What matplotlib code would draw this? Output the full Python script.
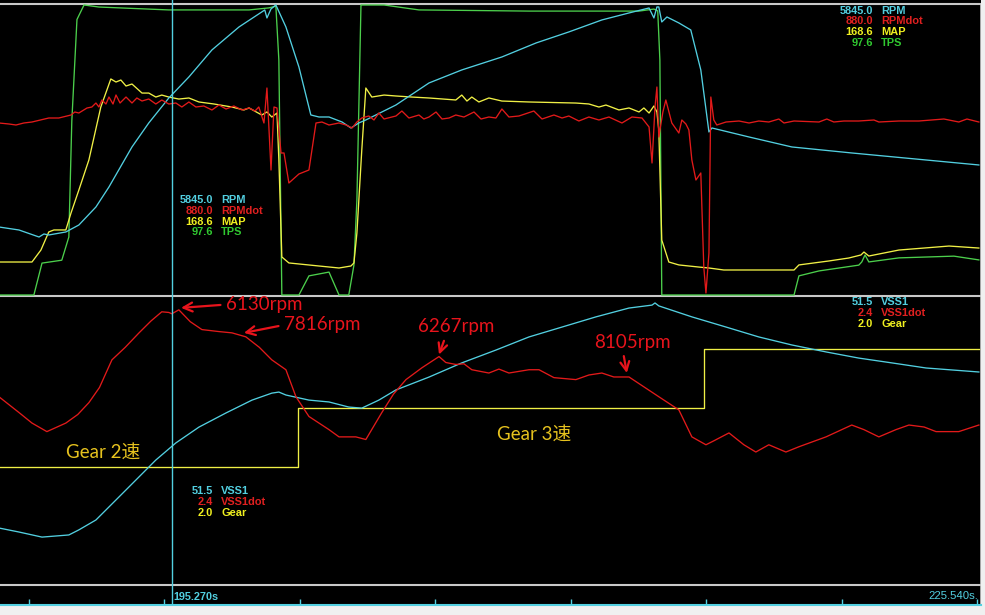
import numpy as np
import matplotlib.pyplot as plt
from matplotlib.transforms import blended_transform_factory

# ---- top panel channels (time in s) ----
tps_t = [188.89, 190.18, 190.48, 191.21, 191.47, 191.58, 191.77, 192.03, 192.58, 195.16, 198.12, 198.85, 199.11,
         199.22, 199.33, 199.96, 200.33, 201.07, 201.44, 201.80, 201.99, 202.10, 202.25, 203.10, 204.39, 208.45,
         211.03, 212.51, 213.06, 213.20, 213.28, 213.35, 218.23, 218.41, 219.15, 220.62, 220.73, 220.85, 220.99,
         222.10, 224.13, 225.05]
tps_v = [0, 0, 11.0, 12.0, 20.0, 60.0, 95.0, 100, 99.3, 98.3, 98.3, 99.0, 99.6,
         81, 0, 0, 6.6, 7.9, 0, 0, 10.3, 32.8, 100, 100, 98.3, 97.9,
         97.9, 97.9, 98.6, 98.0, 81, 0, 0, 6.6, 8.3, 10.3, 11.4, 13.8, 11.4,
         12.8, 13.4, 12.1]

map_t = [188.89, 190.11, 190.44, 190.73, 190.92, 191.36, 191.55, 191.84, 192.21, 192.65, 193.02, 193.21, 193.39,
         193.58, 193.80, 194.17, 194.42, 194.68, 194.90, 195.16, 195.53, 195.90, 196.27, 196.82, 197.49, 197.93,
         198.12, 198.59, 198.78, 198.96, 199.15, 199.22, 199.33, 199.59, 200.70, 201.44, 201.88, 201.99, 202.10,
         202.28, 202.43, 202.65, 203.10, 203.54, 204.13, 204.76, 205.75, 205.97, 206.16, 206.34, 206.60, 206.97,
         207.45, 208.45, 210.18, 210.66, 211.03, 211.29, 211.77, 212.14, 212.51, 212.69, 212.88, 213.06, 213.17,
         213.24, 213.35, 213.61, 213.98, 214.72, 215.09, 215.64, 218.23, 218.41, 219.52, 220.25, 220.70, 220.81,
         220.99, 222.10, 223.95, 225.05]
map_v = [28.1, 28.1, 38.3, 53.7, 55.4, 55.4, 69.8, 89.4, 115.0, 160.1, 184.0, 181.4, 183.1,
         178.0, 179.7, 172.0, 172.0, 168.6, 170.3, 168.6, 166.9, 167.8, 164.4, 162.7, 160.1, 157.6,
         159.3, 153.3, 155.9, 151.6, 155.0, 115.0, 32.4, 27.3, 24.7, 23.0, 24.7, 27.3, 52.8,
         123.5, 176.3, 168.6, 170.3, 169.5, 168.6, 167.8, 166.1, 170.3, 165.2, 168.6, 164.4, 167.8,
         165.2, 164.4, 163.5, 162.7, 160.1, 161.8, 157.6, 159.3, 155.9, 159.3, 155.0, 161.0, 155.9,
         140.5, 46.8, 28.1, 25.6, 23.8, 23.0, 21.3, 21.3, 25.6, 29.0, 31.5, 34.1, 36.6,
         33.2, 38.3, 41.7, 40.0]

rpm_t = [188.89, 189.63, 190.37, 190.55, 190.73, 191.36, 191.84, 192.47, 192.95, 193.80, 194.42, 195.16, 195.90,
         196.75, 197.75, 198.59, 198.70, 198.78, 198.93, 199.11, 199.48, 199.96, 200.40, 200.70, 201.07, 201.55,
         201.88, 202.17, 202.43, 203.54, 204.76, 205.97, 207.45, 208.71, 209.92, 211.14, 212.14, 212.88, 213.06,
         213.17, 213.24, 213.35, 213.54, 213.98, 214.42, 214.79, 215.09, 215.20, 216.57, 218.15, 220.36, 223.10,
         225.05]
rpm_v = [2017, 1928, 1720, 1809, 1780, 1869, 2076, 2610, 3203, 4390, 5102, 5843, 6466,
         7267, 7949, 8394, 8453, 8216, 8483, 8601, 7949, 6762, 5339, 5279, 5279, 5131,
         4953, 5102, 5191, 5635, 6288, 6674, 7059, 7474, 7801, 8157, 8364, 8512, 8216,
         8542, 8542, 8097, 8245, 8068, 7860, 6674, 4835, 4953, 4686, 4390, 4212, 4004,
         3856]

rpmdot_t = [188.89, 189.26, 189.52, 189.81, 190.11, 190.73, 191.10, 191.55, 191.69, 191.84, 192.14, 192.32, 192.47,
            192.58, 192.69, 192.84, 192.95, 193.10, 193.21, 193.36, 193.58, 193.80, 193.98, 194.17, 194.42, 194.68,
            194.90, 195.16, 195.42, 195.64, 195.90, 196.16, 196.45, 196.75, 197.01, 197.27, 197.56, 197.86, 198.12,
            198.34, 198.48, 198.67, 198.78, 198.93, 199.04, 199.15, 199.30, 199.41, 199.59, 199.96, 200.33, 200.59,
            200.81, 201.07, 201.44, 201.70, 201.92, 202.10, 202.28, 202.54, 202.73, 202.91, 203.10, 203.54, 203.76,
            204.02, 204.39, 204.57, 204.76, 205.02, 205.24, 205.50, 205.75, 206.05, 206.42, 206.68, 206.97, 207.23,
            207.45, 207.71, 208.08, 208.63, 208.93, 209.37, 209.67, 209.92, 210.29, 210.66, 211.03, 211.40, 211.88,
            212.25, 212.62, 212.88, 212.99, 213.10, 213.17, 213.24, 213.39, 213.50, 213.72, 213.98, 214.09, 214.24,
            214.35, 214.46, 214.61, 214.79, 214.90, 214.98, 215.09, 215.16, 215.27, 215.38, 215.72, 216.20, 216.57,
            216.93, 217.30, 217.67, 217.86, 218.23, 219.15, 219.44, 219.70, 220.07, 220.62, 221.18, 221.36, 222.10,
            222.84, 223.76, 224.31, 224.61, 225.05]
rpmdot_v = [-103, -155, -207, -103, -52, 155, 155, 310, 465, 414, 672, 724, 931,
            724, 1086, 879, 1241, 879, 1345, 931, 1241, 931, 1190, 1034, 1138, 879,
            1086, 879, 931, 724, 983, 724, 776, 569, 828, 621, 776, 569, 672,
            517, 724, -103, 1707, -2534, 724, 672, -1655, -1655, -3207, -2741, -2534, -103,
            -52, -207, -103, -207, -362, -52, 155, 259, 52, 414, 103, 259, 517,
            155, 310, 103, 207, 465, 103, 155, 310, 207, 465, 103, 207, 155,
            621, 207, 259, 517, 103, 310, 155, 259, 0, 207, 52, 207, -103,
            207, 155, -310, -2172, 724, 1758, -828, 465, 1086, -103, -621, 52, -155,
            -465, -2017, -3051, -2689, -7551, -8896, -6827, 1241, 52, -207, -52, 0, -103,
            0, -52, 103, -103, 0, -52, 103, -52, 0, 0, 52, -52, 0,
            0, 103, -52, 103, -52]

# ---- bottom panel channels ----
vss_t = [188.89, 189.63, 190.48, 191.47, 191.84, 192.47, 193.32, 194.06, 194.68, 195.42, 196.27, 197.27, 198.23,
         198.96, 199.22, 199.48, 200.33, 201.07, 201.80, 202.28, 202.91, 203.54, 204.76, 205.97, 207.23, 208.45,
         209.67, 210.92, 212.14, 212.99, 213.10, 213.24, 214.46, 215.72, 216.93, 218.15, 219.41, 220.62, 221.84,
         223.10, 225.05]
vss_v = [21.3, 19.8, 17.9, 18.7, 20.6, 24.3, 32.9, 40.4, 46.7, 53.1, 59.0, 64.3, 69.1,
         71.7, 72.1, 71.0, 69.1, 68.4, 66.5, 66.1, 69.1, 72.9, 77.7, 83.0, 87.8, 92.7,
         96.4, 100.2, 103.5, 104.6, 105.4, 104.3, 100.2, 96.4, 92.7, 89.7, 87.1, 84.8, 83.0,
         81.1, 79.6]

vssdot_t = [188.89, 189.63, 190.11, 190.66, 191.36, 191.80, 192.21, 192.60, 193.06, 193.55, 194.06, 194.50, 194.90,
            195.16, 195.27, 195.53, 195.95, 196.38, 197.00, 197.49, 198.00, 198.50, 198.96, 199.48, 199.85, 200.33,
            201.07, 201.44, 202.06, 202.43, 203.02, 203.45, 203.91, 204.50, 205.13, 205.38, 205.75, 206.05, 206.34,
            206.97, 207.34, 207.71, 208.45, 208.82, 209.37, 210.18, 210.66, 211.14, 211.58, 212.14, 212.69, 213.24,
            213.98, 214.46, 214.98, 215.27, 215.83, 216.38, 216.82, 217.30, 217.93, 218.41, 219.41, 220.36, 220.81,
            221.36, 221.99, 222.47, 223.03, 223.47, 224.31, 225.05]
vssdot_v = [1.11, 0.87, 0.71, 0.58, 0.71, 0.84, 1.02, 1.25, 1.67, 1.86, 2.08, 2.26, 2.40,
            2.39, 2.37, 2.43, 2.25, 2.13, 2.10, 2.08, 2.02, 1.86, 1.67, 1.52, 1.11, 0.81,
            0.61, 0.50, 0.50, 0.46, 0.87, 1.15, 1.37, 1.55, 1.72, 1.63, 1.60, 1.61, 1.52,
            1.47, 1.53, 1.47, 1.52, 1.52, 1.40, 1.37, 1.44, 1.47, 1.41, 1.41, 1.26, 1.11,
            0.91, 0.50, 0.38, 0.44, 0.56, 0.38, 0.27, 0.38, 0.27, 0.35, 0.50, 0.68, 0.61,
            0.50, 0.61, 0.68, 0.65, 0.58, 0.58, 0.68]

gear_t = [188.89, 199.92, 214.90, 225.05]
gear_v = [2, 3, 4, 4]

cursor_t = 195.27
end_label = '225.540s.'
top_names = ['RPM', 'RPMdot', 'MAP', 'TPS']
top_vals = [5845.0, 880.0, 168.6, 97.6]
bot_names = ['VSS1', 'VSS1dot', 'Gear']
bot_vals = [51.5, 2.4, 2.0]

# annotations: (label, tip time, tip value, text time, text value)
notes = [('6130rpm', 195.61, 2.46, 197.27, 2.51),
         ('7816rpm', 197.93, 2.08, 199.41, 2.20),
         ('6267rpm', 205.13, 1.75, 205.75, 2.17),
         ('8105rpm', 212.06, 1.47, 212.28, 1.94)]

CYAN = '#52cfe0'
RED = '#e21a1a'
YEL = '#f0f046'
GRN = '#4ccf4c'
GOLD = '#e6c21e'
GRAY = '#c8c8c8'

W, H = 985, 615
XL = (188.93, 188.93 + 981 / 27.1)


def rect(x0, y0, x1, y1):
    return [x0 / W, 1 - y1 / H, (x1 - x0) / W, (y1 - y0) / H]


fig = plt.figure(figsize=(W / 100, H / 100), dpi=100, facecolor='#f0f0f0')

bg = fig.add_axes(rect(0, 0, 981, 606))
bg.set_facecolor('black')
bg.set_xlim(0, 981); bg.set_ylim(606, 0)
bg.set_xticks([]); bg.set_yticks([])
for s in bg.spines.values():
    s.set_visible(False)
for yy in (4, 295.5, 585):
    bg.axhline(yy, color=GRAY, lw=1.5)
bg.axvline(980.5, color=GRAY, lw=1.2, ymax=1 - 4 / 606)


def panel(y0, y1):
    a = fig.add_axes(rect(0, y0, 981, y1))
    a.set_xlim(*XL)
    a.axis('off')
    return a


def channel(parent, t, v, lim, color, step=False):
    a = parent.twinx()
    a.set_ylim(*lim)
    a.axis('off')
    a.plot(t, v, color=color, lw=0.95, drawstyle='steps-post' if step else 'default', clip_on=False)
    return a


top = panel(5, 295)
channel(top, tps_t, tps_v, (0, 100), GRN)
channel(top, map_t, map_v, (0, 247), YEL)
channel(top, rpm_t, rpm_v, (0, 8600), CYAN)
channel(top, rpmdot_t, rpmdot_v, (-9000, 6000), RED)

bot = panel(296, 585)
gax = channel(bot, gear_t, gear_v, (0, 4.9), YEL, step=True)
channel(bot, vss_t, vss_v, (0, 108), CYAN)
dax = channel(bot, vssdot_t, vssdot_v, (-1.75, 2.64), RED)

ann_font = ['Lato', 'Noto Sans CJK SC']
for lab, tx, ty, lx, ly in notes:
    vertical = abs(tx - lx) < 1
    dax.annotate(lab, xy=(tx, ty), xytext=(lx, ly), ha='center' if vertical else 'left', va='center',
                 color='#e8141c', fontsize=13.5, family=ann_font,
                 arrowprops=dict(arrowstyle='->', color='#e8141c', lw=1.6, mutation_scale=16,
                                 shrinkA=2, shrinkB=0,
                                 relpos=(0.37, 0) if vertical else (0, 0.5)))

gax.text(191.36, 2.24, 'Gear 2速', color=GOLD, fontsize=13.5, family=ann_font, va='center')
gax.text(207.27, 2.54, 'Gear 3速', color=GOLD, fontsize=13.5, family=ann_font, va='center')

# cursor over the whole plot
full = panel(0, 605)
full.axvline(cursor_t, color=CYAN, lw=1.0)

# time strip
strip = fig.add_axes(rect(0, 587, 981, 605))
strip.set_facecolor('none')
strip.set_xlim(*XL)
strip.set_yticks([])
for k, s in strip.spines.items():
    s.set_visible(k == 'bottom')
strip.spines['bottom'].set_color(CYAN)
strip.spines['bottom'].set_linewidth(1.5)
strip.set_xticks(np.arange(190, 226, 5))
strip.tick_params(axis='x', direction='in', length=4, width=1, color=CYAN, labelbottom=False)
tr = blended_transform_factory(strip.transData, strip.transAxes)
strip.text(cursor_t + 0.07, 0.45, f'{cursor_t:.3f}s', transform=tr, color=CYAN, fontsize=7.8,
           fontweight='bold', family='Liberation Sans', va='center')
strip.text(0.997, 0.5, end_label, transform=strip.transAxes, color=CYAN, fontsize=8.2,
           family='Liberation Sans', va='center', ha='right')

# value legends
leg_cols_top = [CYAN, '#e02020', '#f0f020', '#30c830']
leg_cols_bot = [CYAN, '#e02020', '#f0f020']


def legend(xr, y0, names, vals, cols, dy=10.8):
    for i, (n, v, c) in enumerate(zip(names, vals, cols)):
        y = 1 - (y0 + i * dy) / H
        fig.text(xr / W, y, f'{v:.1f}', color=c, fontsize=7.9, fontweight='bold',
                 family='Liberation Sans', ha='right', va='center')
        fig.text((xr + 8) / W, y, n, color=c, fontsize=7.9, fontweight='bold',
                 family='Liberation Sans', ha='left', va='center')


legend(873, 10.5, top_names, top_vals, leg_cols_top)
legend(213, 200, top_names, top_vals, leg_cols_top)
legend(873, 302, bot_names, bot_vals, leg_cols_bot)
legend(213, 491, bot_names, bot_vals, leg_cols_bot)

fig.savefig('out.png', dpi=100, facecolor=fig.get_facecolor())
